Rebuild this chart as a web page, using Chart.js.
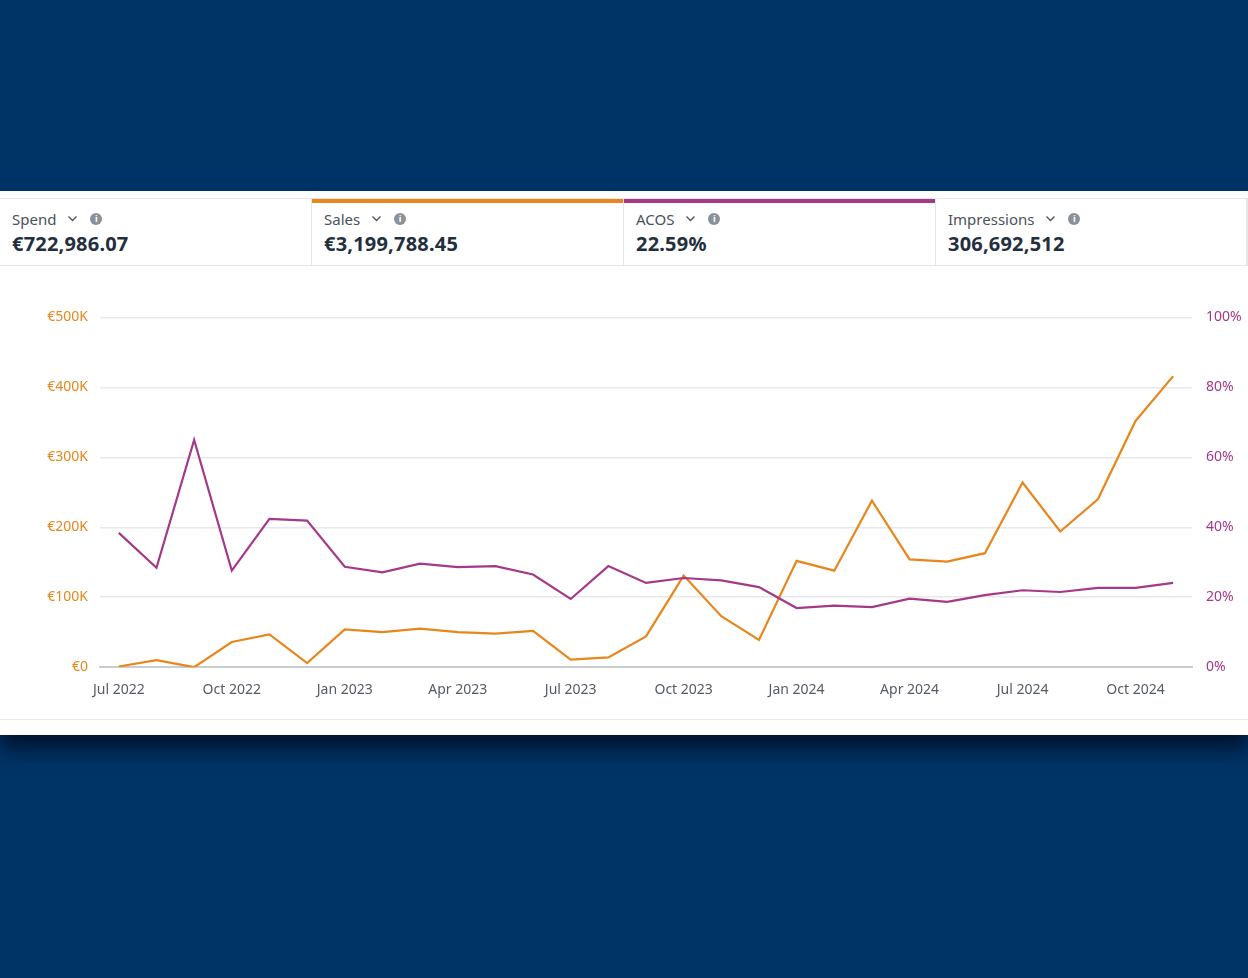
<!DOCTYPE html>
<html>
<head>
<meta charset="utf-8">
<script src="https://cdn.jsdelivr.net/npm/chart.js@4.4.1/dist/chart.umd.min.js"></script>
<style>
  html, body { margin: 0; padding: 0; }
  body {
    width: 1248px; height: 978px; overflow: hidden;
    background: #003466;
    font-family: "Noto Sans", "Open Sans", sans-serif;
    position: relative;
  }
  .panel {
    position: absolute; left: 0; top: 191px; width: 1248px; height: 544px;
    background: #fff;
    box-shadow: 0 14px 18px rgba(0, 10, 30, 0.75);
  }
  .tiles {
    position: absolute; left: 0; top: 7px; width: 1246px; height: 66px;
    border-top: 1px solid #e6e6e6; border-bottom: 1px solid #e6e6e6; border-right: 2px solid #e6e6e6;
    display: flex;
  }
  .tile {
    flex: 0 0 312px; box-sizing: border-box; position: relative;
    border-right: 1px solid #e6e6e6; padding: 9px 0 0 12px;
  }
  .tile:last-child { border-right: none; flex: 1 1 auto; }
  .tile .bar { position: absolute; left: 0; right: 0; top: 0; height: 4px; }
  .label { font-size: 15px; color: #4a525c; display: flex; align-items: center; height: 21px; }
  .chev { margin-left: 12px; width: 9px; height: 9px; }
  .info {
    margin-left: 13px; width: 12px; height: 12px; border-radius: 50%; background: #8a9199;
    color: #fff; font-size: 9px; font-weight: bold; line-height: 12px; text-align: center;
  }
  .value { font-size: 20px; font-weight: bold; color: #232f3e; margin-top: 1px; letter-spacing: 0.2px; }
  .bottomline { position: absolute; left: 0; top: 528px; width: 1248px; height: 1px; background: #e8e8e8; }
  #wrap { position: absolute; left: 0; top: 295px; width: 1248px; height: 409px; }
</style>
</head>
<body>
<div class="panel">
  <div class="tiles" id="tiles"></div>
  <div class="bottomline"></div>
</div>
<div id="wrap"><canvas id="chart"></canvas></div>
<script>
const months = [
  'Jul 2022', 'Aug 2022', 'Sep 2022', 'Oct 2022', 'Nov 2022', 'Dec 2022',
  'Jan 2023', 'Feb 2023', 'Mar 2023', 'Apr 2023', 'May 2023', 'Jun 2023',
  'Jul 2023', 'Aug 2023', 'Sep 2023', 'Oct 2023', 'Nov 2023', 'Dec 2023',
  'Jan 2024', 'Feb 2024', 'Mar 2024', 'Apr 2024', 'May 2024', 'Jun 2024',
  'Jul 2024', 'Aug 2024', 'Sep 2024', 'Oct 2024', 'Nov 2024'
];
const sales = [
  1000, 10000, 0, 36000, 47000, 6000,
  54000, 50000, 55000, 50000, 48000, 52000,
  11000, 14000, 44000, 131000, 73000, 39000,
  152000, 138000, 238000, 154000, 151000, 163000,
  264000, 194000, 240000, 352000, 416000
];
const acos = [
  38.4, 28.4, 65.0, 27.6, 42.4, 41.9,
  28.7, 27.1, 29.6, 28.6, 28.9, 26.5,
  19.5, 28.9, 24.1, 25.5, 24.8, 22.9,
  16.9, 17.6, 17.2, 19.6, 18.7, 20.6,
  22.0, 21.5, 22.7, 22.7, 24.1
];
const metricNames = ['Spend', 'Sales', 'ACOS', 'Impressions'];
const metricValues = ['€722,986.07', '€3,199,788.45', '22.59%', '306,692,512'];
const metricBars = [null, '#e8861c', '#a6388a', null];

const ORANGE = '#e8861c';
const PURPLE = '#a6388a';

// header tiles
const tiles = document.getElementById('tiles');
metricNames.forEach((name, i) => {
  const t = document.createElement('div');
  t.className = 'tile';
  t.innerHTML =
    (metricBars[i] ? `<div class="bar" style="background:${metricBars[i]}"></div>` : '') +
    `<div class="label">${name}` +
    `<svg class="chev" viewBox="0 0 9 9"><path d="M0.5 2.5 L4.5 6.5 L8.5 2.5" fill="none" stroke="#4a525c" stroke-width="1.3"/></svg>` +
    `<span class="info">i</span></div>` +
    `<div class="value">${metricValues[i]}</div>`;
  tiles.appendChild(t);
});

const ctx = document.getElementById('chart').getContext('2d');
new Chart(ctx, {
  type: 'line',
  data: {
    labels: months,
    datasets: [
      {
        label: 'ACOS',
        data: acos,
        yAxisID: 'y1',
        borderColor: PURPLE,
        borderWidth: 2.2,
        pointRadius: 0,
        tension: 0
      },
      {
        label: 'Sales',
        data: sales,
        yAxisID: 'y',
        borderColor: ORANGE,
        borderWidth: 2.2,
        pointRadius: 0,
        tension: 0
      }
    ]
  },
  options: {
    responsive: true,
    maintainAspectRatio: false,
    animation: false,
    layout: { padding: { top: 20, bottom: 0 } },
    plugins: { legend: { display: false }, tooltip: { enabled: false } },
    scales: {
      x: {
        offset: true,
        grid: { display: false },
        border: { display: true, color: '#c9ccd0', width: 2 },
        ticks: {
          autoSkip: false,
          maxRotation: 0,
          padding: 6,
          color: '#545b64',
          font: { family: '"Noto Sans", sans-serif', size: 14 },
          callback: function(v, i) { return i % 3 === 0 ? months[i] : ''; }
        }
      },
      y: {
        position: 'left',
        min: 0, max: 500000,
        afterFit: (s) => { s.width = 100; },
        grid: { color: '#e8e8ea', drawTicks: false, lineWidth: 1.5 },
        border: { display: false },
        ticks: {
          stepSize: 100000,
          padding: 12,
          color: ORANGE,
          font: { family: '"Noto Sans", sans-serif', size: 14 },
          callback: (v) => v === 0 ? '€0' : '€' + (v / 1000) + 'K'
        }
      },
      y1: {
        position: 'right',
        min: 0, max: 100,
        afterFit: (s) => { s.width = 56; },
        grid: { display: false, drawTicks: false },
        border: { display: false },
        ticks: {
          stepSize: 20,
          padding: 14,
          color: PURPLE,
          font: { family: '"Noto Sans", sans-serif', size: 14 },
          callback: (v) => v + '%'
        }
      }
    }
  }
});
</script>
</body>
</html>
